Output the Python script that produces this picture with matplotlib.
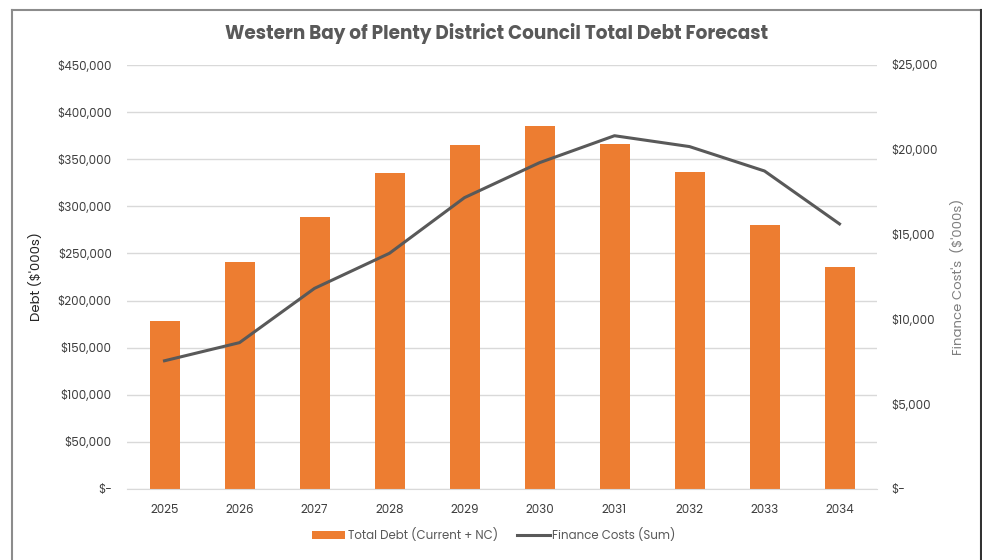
import matplotlib.pyplot as plt
import numpy as np
from matplotlib.lines import Line2D
from matplotlib.ticker import FuncFormatter

# ==========================================
# DATA
# ==========================================

years = ["2025", "2026", "2027", "2028", "2029",
         "2030", "2031", "2032", "2033", "2034"]

total_debt = [178600, 240600, 288300, 335000, 364800,
              385600, 366100, 336400, 280500, 235300]

finance_costs = [7560, 8630, 11830, 13900, 17180,
                 19240, 20830, 20190, 18750, 15630]

bar_color = "#ED7D31"
line_color = "#595959"
text_color = "#404040"

plt.rcParams["font.family"] = ["Poppins", "Lato", "DejaVu Sans"]


def money(v, pos):
    if v == 0:
        return "$-"
    return f"${v:,.0f}"


fig = plt.figure(figsize=(9.82, 5.6), dpi=100)
ax = fig.add_axes([127 / 982, 1 - 489 / 560, 750 / 982, 424 / 560])

x = np.arange(len(years))

ax.bar(x, total_debt, width=0.4, color=bar_color,
       label="Total Debt (Current + NC)", zorder=2)

ax.set_xlim(-0.5, len(years) - 0.5)
ax.set_ylim(0, 450000)
ax.set_yticks(np.arange(0, 450001, 50000))
ax.yaxis.set_major_formatter(FuncFormatter(money))
ax.set_xticks(x)
ax.set_xticklabels(years)
ax.grid(axis="y", color="#d9d9d9", linewidth=1, zorder=0)

for s in ax.spines.values():
    s.set_visible(False)
ax.spines["bottom"].set_visible(True)
ax.spines["bottom"].set_color("#d9d9d9")

ax.tick_params(axis="both", length=0, labelsize=8.5, colors=text_color)
ax.tick_params(axis="y", pad=11)
ax.tick_params(axis="x", pad=11)
ax.set_ylabel("Debt ($'000s)", fontsize=9.5, color="#262626", labelpad=10)

# zweite Achse

ax2 = ax.twinx()
ax2.plot(x, finance_costs, color=line_color, linewidth=2.2,
         label="Finance Costs (Sum)", zorder=3)
ax2.set_ylim(0, 25000)
ax2.set_yticks(np.arange(0, 25001, 5000))
ax2.yaxis.set_major_formatter(FuncFormatter(money))
for s in ax2.spines.values():
    s.set_visible(False)
ax2.tick_params(axis="y", length=0, labelsize=8.5, colors=text_color, pad=10)
ax2.set_ylabel("Finance Cost's  ($'000s)", fontsize=9.5, color="#7f7f7f",
               labelpad=10)

fig.suptitle("Western Bay of Plenty District Council Total Debt Forecast",
             x=0.506, y=1 - 34 / 560, va="center",
             fontsize=13.3, fontweight="bold", color="#595959")

# Legende

h1, l1 = ax.get_legend_handles_labels()
h2, l2 = ax2.get_legend_handles_labels()
fig.legend(h1 + h2, l1 + l2, loc="center", bbox_to_anchor=(0.503, 1 - 535 / 560),
           ncol=2, frameon=False, fontsize=8.5, labelcolor="#595959",
           handlelength=2.8, handletextpad=0.2, columnspacing=1.6)

# Rahmen

fig.add_artist(Line2D([12 / 982, 1], [1 - 10 / 560, 1 - 10 / 560],
                      color="#8c8c8c", linewidth=1.5))
fig.add_artist(Line2D([12 / 982, 12 / 982], [0, 1 - 10 / 560],
                      color="#8c8c8c", linewidth=1.5))
fig.add_artist(Line2D([980.5 / 982, 980.5 / 982], [0, 1 - 10 / 560],
                      color="#333333", linewidth=1.5))

fig.savefig("out.png", dpi=100)
